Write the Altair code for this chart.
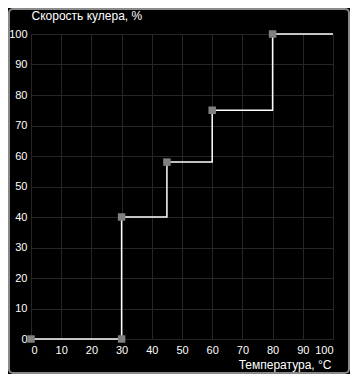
import altair as alt
import pandas as pd

# data
temps = [0, 30, 30, 45, 60, 80]
speeds = [0, 0, 40, 58, 75, 100]
line_end_temp = 100
line_end_speed = 100
x_ticks = [0, 10, 20, 30, 40, 50, 60, 70, 80, 90, 100]
y_ticks = [0, 10, 20, 30, 40, 50, 60, 70, 80, 90, 100]

pts = pd.DataFrame({"t": temps, "s": speeds, "kind": ["pt"] * len(temps)})
line_df = pd.DataFrame({"t": temps + [line_end_temp], "s": speeds + [line_end_speed],
                        "kind": ["ln"] * (len(temps) + 1)})

FONT = "Liberation Sans"
TOTAL_W, TOTAL_H = 342, 366
W, H = 302, 305
PL, PT = 23, 26

x_enc = alt.X(
    "t:Q",
    scale=alt.Scale(domain=[0, 100], nice=False),
    axis=alt.Axis(
        values=x_ticks, grid=True, gridColor="#262626", gridWidth=1,
        domain=False, ticks=False, labelColor="#ffffff", labelFont=FONT,
        labelFontSize=11, labelPadding=5, labelOverlap=False,
        title="Температура, °C", titleColor="#ffffff", titleFont=FONT,
        titleFontSize=12, titleFontWeight="normal",
        titleAnchor="end", titleAlign="right", titleX=W - 2, titleY=29,
        titleBaseline="alphabetic",
    ),
)
y_enc = alt.Y(
    "s:Q",
    scale=alt.Scale(domain=[0, 100], nice=False),
    axis=alt.Axis(
        values=y_ticks, grid=True, gridColor="#262626", gridWidth=1,
        domain=False, ticks=False, labelColor="#ffffff", labelFont=FONT,
        labelFontSize=11, labelPadding=4, labelOverlap=False,
        title="Скорость кулера, %", titleColor="#ffffff", titleFont=FONT,
        titleFontSize=12, titleFontWeight="normal", titleAngle=0,
        titleAlign="left", titleX=0, titleY=-15, titleBaseline="alphabetic",
    ),
)

data = pd.concat([line_df, pts], ignore_index=True)
base = alt.Chart(data).encode(x=x_enc, y=y_enc)

line = base.mark_line(
    color="#ffffff", strokeWidth=1.5, interpolate="step-after"
).transform_filter(alt.datum.kind == "ln")

markers = base.mark_square(
    color="#808080", opacity=1, size=56
).transform_filter(alt.datum.kind == "pt")

# decorative outer frame (one row only)
frame = base.mark_rect(
    fill="transparent", stroke="#8a8a8a", strokeWidth=2, cornerRadius=4, clip=False
).encode(
    x=alt.value(-PL + 1), x2=alt.value(TOTAL_W - PL - 1),
    y=alt.value(-PT + 1), y2=alt.value(TOTAL_H - PT - 1),
).transform_filter("datum.kind == 'pt' && datum.t == 0 && datum.s == 0")

chart = alt.layer(frame, line, markers).properties(
    width=W, height=H,
    background="#000000",
    padding={"left": PL, "top": PT, "right": TOTAL_W - PL - W, "bottom": TOTAL_H - PT - H},
    autosize=alt.AutoSizeParams(type="none"),
).configure_view(stroke=None)

chart.save("out.html", embed_options={"renderer": "svg", "actions": False})
